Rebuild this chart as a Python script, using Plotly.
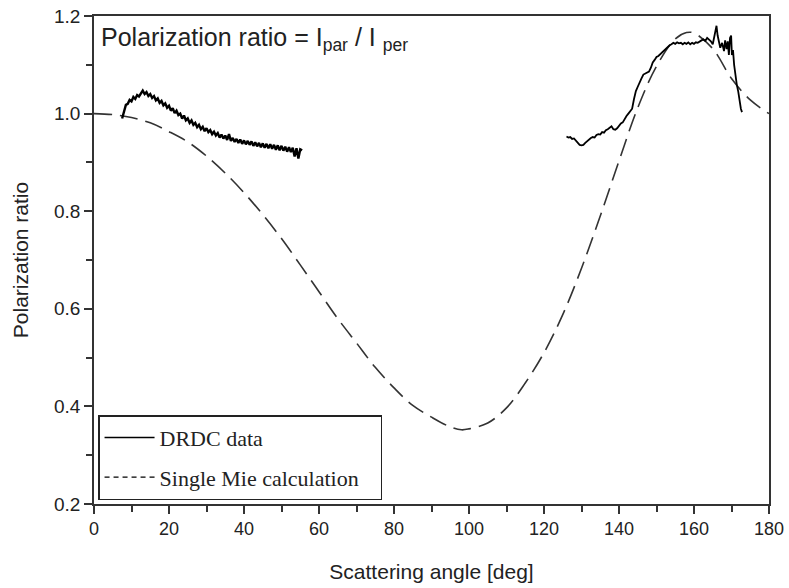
import plotly.graph_objects as go

# Single Mie calculation
mie_angle = [0, 5, 10, 15, 20, 25, 30, 35, 40, 45, 50, 55, 60, 65, 70, 75, 80, 85, 90, 95,
             98, 100, 105, 110, 115, 120, 125, 130, 135, 140, 145, 150, 155, 158, 160, 165,
             170, 175, 180]
mie_ratio = [1.000, 0.998, 0.992, 0.981, 0.963, 0.942, 0.913, 0.878, 0.838, 0.793, 0.744,
             0.690, 0.635, 0.580, 0.530, 0.480, 0.438, 0.402, 0.378, 0.358, 0.352, 0.354,
             0.366, 0.397, 0.448, 0.510, 0.588, 0.683, 0.790, 0.903, 1.012, 1.097, 1.153,
             1.166, 1.165, 1.133, 1.072, 1.028, 1.000]

# DRDC data, forward segment
drdc1_angle = [7.5, 8, 8.5, 9, 9.5, 10, 10.5, 11, 11.5, 12, 12.5, 13, 13.5, 14, 14.5, 15,
               15.5, 16, 16.5, 17, 17.5, 18, 18.5, 19, 19.5, 20, 20.5, 21, 21.5, 22, 22.5,
               23, 23.5, 24, 24.5, 25, 25.5, 26, 26.5, 27, 27.5, 28, 28.5, 29, 29.5, 30,
               30.5, 31, 31.5, 32, 32.5, 33, 33.5, 34, 34.5, 35, 35.5, 36, 36.5, 37, 37.5,
               38, 38.5, 39, 39.5, 40, 40.5, 41, 41.5, 42, 42.5, 43, 43.5, 44, 44.5, 45,
               45.5, 46, 46.5, 47, 47.5, 48, 48.5, 49, 49.5, 50, 50.5, 51, 51.5, 52, 52.5,
               53, 53.5, 54, 54.5, 55, 55.5]
drdc1_ratio = [0.990, 1.005, 1.018, 1.020, 1.028, 1.025, 1.034, 1.030, 1.038, 1.035, 1.042,
               1.047, 1.040, 1.044, 1.036, 1.040, 1.032, 1.036, 1.027, 1.031, 1.022, 1.026,
               1.017, 1.021, 1.012, 1.016, 1.006, 1.011, 1.001, 1.006, 0.997, 1.000, 0.990,
               0.996, 0.986, 0.990, 0.981, 0.986, 0.977, 0.981, 0.972, 0.977, 0.968, 0.973,
               0.964, 0.970, 0.962, 0.966, 0.958, 0.963, 0.955, 0.960, 0.951, 0.957, 0.949,
               0.955, 0.946, 0.958, 0.944, 0.950, 0.942, 0.948, 0.940, 0.947, 0.938, 0.945,
               0.937, 0.944, 0.936, 0.943, 0.934, 0.941, 0.933, 0.940, 0.931, 0.939, 0.930,
               0.938, 0.929, 0.937, 0.928, 0.936, 0.926, 0.935, 0.925, 0.934, 0.924, 0.932,
               0.922, 0.931, 0.921, 0.930, 0.912, 0.929, 0.908, 0.927, 0.925]

# DRDC data, backward segment
drdc2_angle = [126, 126.5, 127, 127.5, 128, 128.5, 129, 129.5, 130, 130.5, 131, 131.5, 132,
               132.5, 133, 133.5, 134, 134.5, 135, 135.5, 136, 136.5, 137, 137.5, 138,
               138.5, 139, 139.5, 140, 140.5, 141, 141.5, 142, 142.5, 143, 143.5, 144,
               144.5, 145, 145.5, 146, 146.5, 147, 147.5, 148, 148.5, 149, 149.5, 150,
               150.5, 151, 151.5, 152, 152.5, 153, 153.5, 154, 154.5, 155, 155.5, 156,
               156.5, 157, 157.5, 158, 158.5, 159, 159.5, 160, 160.5, 161, 161.5, 162,
               162.5, 163, 163.5, 164, 164.5, 165, 165.5, 166, 166.3, 166.7, 167, 167.5,
               168, 168.3, 168.7, 169, 169.3, 169.6, 169.9, 170.1, 170.4, 170.7, 171,
               171.4, 171.8, 172.2, 172.5, 172.8]
drdc2_ratio = [0.953, 0.951, 0.952, 0.948, 0.949, 0.944, 0.940, 0.936, 0.935, 0.936, 0.940,
               0.944, 0.946, 0.950, 0.952, 0.951, 0.956, 0.958, 0.957, 0.962, 0.961, 0.966,
               0.968, 0.972, 0.974, 0.968, 0.967, 0.970, 0.976, 0.980, 0.982, 0.990, 0.995,
               1.000, 1.004, 1.010, 1.030, 1.046, 1.055, 1.062, 1.072, 1.080, 1.082, 1.084,
               1.086, 1.094, 1.105, 1.110, 1.116, 1.118, 1.122, 1.126, 1.130, 1.134, 1.137,
               1.140, 1.142, 1.145, 1.143, 1.146, 1.144, 1.145, 1.142, 1.145, 1.143, 1.146,
               1.142, 1.145, 1.143, 1.146, 1.145, 1.148, 1.150, 1.152, 1.149, 1.155, 1.152,
               1.148, 1.142, 1.165, 1.180, 1.160, 1.140, 1.135, 1.145, 1.128, 1.150, 1.132,
               1.148, 1.120, 1.155, 1.160, 1.120, 1.130, 1.100, 1.080, 1.060, 1.045, 1.020,
               1.010, 1.003]

x_ticks = [0, 20, 40, 60, 80, 100, 120, 140, 160, 180]
y_ticks = [0.2, 0.4, 0.6, 0.8, 1.0, 1.2]

fig = go.Figure()
fig.add_trace(go.Scatter(x=mie_angle, y=mie_ratio, mode="lines", line_shape="spline",
                         line=dict(color="#333333", width=1.6, dash="18px,8px"),
                         showlegend=False, hoverinfo="skip"))
fig.add_trace(go.Scatter(x=drdc1_angle, y=drdc1_ratio, mode="lines",
                         line=dict(color="black", width=2.4),
                         name="DRDC data", legendgroup="a", showlegend=False))
fig.add_trace(go.Scatter(x=drdc2_angle, y=drdc2_ratio, mode="lines",
                         line=dict(color="black", width=1.8),
                         name="DRDC data", legendgroup="a", showlegend=False))
fig.add_trace(go.Scatter(x=[None], y=[None], mode="lines",
                         line=dict(color="black", width=1.4),
                         name="DRDC data", legendgroup="a", showlegend=True))
fig.add_trace(go.Scatter(x=[None], y=[None], mode="lines",
                         line=dict(color="black", width=1.2, dash="5px,4px"),
                         name="Single Mie calculation\u00a0\u00a0\u00a0",
                         legendgroup="b", showlegend=True))

axis_common = dict(showline=True, linecolor="#333333", linewidth=1.5, mirror=True,
                   ticks="outside", ticklen=8, tickwidth=1.5, tickcolor="#333333",
                   showgrid=False, zeroline=False, automargin=False,
                   ticklabeloverflow="allow")

fig.update_xaxes(range=[0, 180], tickvals=x_ticks, **axis_common,
                 minor=dict(dtick=10, ticks="outside", ticklen=6, tickwidth=1.5,
                            tickcolor="#333333"),
                 tickfont=dict(family="Liberation Sans", size=18, color="#222"),
                 title=dict(text="Scattering angle [deg]", standoff=26,
                            font=dict(family="Liberation Sans", size=21, color="#222")))
fig.update_yaxes(range=[0.2, 1.2], tickvals=y_ticks, tickformat=".1f", **axis_common,
                 minor=dict(dtick=0.1, ticks="outside", ticklen=6, tickwidth=1.5,
                            tickcolor="#333333"),
                 tickfont=dict(family="Liberation Sans", size=19, color="#222"),
                 title=dict(text="Polarization ratio", standoff=20,
                            font=dict(family="Liberation Sans", size=21, color="#222")))

fig.add_annotation(x=0.008, y=0.99, xref="paper", yref="paper", xanchor="left",
                   yanchor="top", showarrow=False, align="left",
                   text="Polarization ratio = I<sub>par</sub> / I <sub>per</sub>",
                   font=dict(family="Liberation Sans", size=25, color="#222"))

fig.update_layout(
    width=789, height=588,
    margin=dict(l=94, r=20, t=16, b=84),
    paper_bgcolor="white", plot_bgcolor="white",
    legend=dict(x=0.006, y=0.182, xanchor="left", yanchor="top",
                bgcolor="white", bordercolor="#222", borderwidth=1.5,
                font=dict(family="Liberation Serif", size=22, color="#222"),
                traceorder="grouped", tracegroupgap=8, itemwidth=50),
)

fig.write_html("out.html", config={"displayModeBar": False},
               post_script="document.body.style.margin='0';"
                           "document.body.style.overflow='hidden';")
